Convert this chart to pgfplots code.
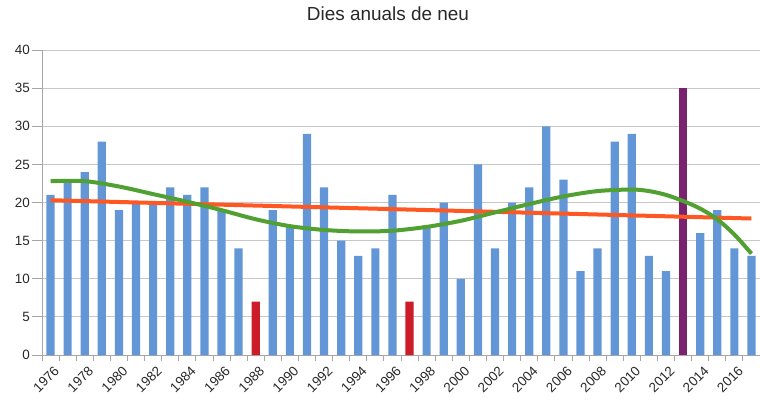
\documentclass[border=0pt]{standalone}
\usepackage{pgfplots}
\pgfplotsset{compat=1.18}
\usepackage{fontspec}
\setmainfont{Liberation Sans}
\definecolor{barblue}{RGB}{98,150,214}
\definecolor{barred}{RGB}{204,28,40}
\definecolor{barpurple}{RGB}{122,34,112}
\definecolor{trendred}{RGB}{255,87,34}
\definecolor{trendgreen}{RGB}{80,160,50}
\definecolor{ticktext}{RGB}{40,40,40}
\begin{document}
\begin{tikzpicture}
\begin{axis}[
  scale only axis, width=718bp, height=305bp,
  xmin=1975.5, xmax=2017.5, ymin=0, ymax=40,
  ytick={0,5,...,40},
  xtick={1976,1978,...,2016},
  minor xtick={1975.5,1976.5,...,2017.5},
  ymajorgrids, grid style={black!22, line width=0.9bp},
  axis x line*=bottom, axis y line*=left,
  axis line style={black!35, line width=0.9bp},
  every outer x axis line/.append style={-},
  every outer y axis line/.append style={-},
  tick align=outside,
  major tick length=10bp, minor tick length=6bp,
  every major x tick/.style={draw=none},
  every minor x tick/.style={draw=black!35, line width=0.8bp},
  every major y tick/.style={draw=black!35, line width=0.8bp},
  /pgf/number format/1000 sep={},
  /pgf/number format/assume math mode=true,
  xticklabel style={rotate=45, anchor=north east, inner sep=1bp, xshift=3bp, yshift=-1bp,
    font=\fontsize{13.5}{13.5}\selectfont, text=ticktext},
  yticklabel style={font=\fontsize{13.5}{13.5}\selectfont, text=ticktext, inner sep=1bp, xshift=-1bp},
  title={Dies anuals de neu},
  title style={at={(0.5,1)}, anchor=center, yshift=30bp, xshift=-13bp,
    font=\fontsize{19}{19}\selectfont, text=ticktext},
  clip=false,
]
\coordinate (SW) at (rel axis cs:0,0);
\coordinate (NE) at (rel axis cs:1,1);
\addplot[ybar, bar width=0.48, bar shift=0pt, fill=barblue, draw=none] coordinates {
(1976,21) (1977,23) (1978,24) (1979,28) (1980,19) (1981,20) (1982,20) (1983,22)
(1984,21) (1985,22) (1986,19) (1987,14)
(1989,19) (1990,17) (1991,29) (1992,22) (1993,15) (1994,13) (1995,14) (1996,21)
(1998,17) (1999,20) (2000,10) (2001,25) (2002,14) (2003,20) (2004,22) (2005,30)
(2006,23) (2007,11) (2008,14) (2009,28) (2010,29) (2011,13) (2012,11)
(2014,16) (2015,19) (2016,14) (2017,13)
};
\addplot[ybar, bar width=0.48, bar shift=0pt, fill=barred, draw=none] coordinates {
(1988,7) (1997,7)
};
\addplot[ybar, bar width=0.48, bar shift=0pt, fill=barpurple, draw=none] coordinates {
(2013,35)
};
\addplot[trendred, line width=4bp, no markers] coordinates {
(1976,20.3) (2017,17.9)
};
\addplot[trendgreen, line width=4bp, no markers, smooth] coordinates {
(1976,22.8) (1978,22.8) (1980,22.1) (1982,21.1) (1984,20.1) (1986,19.0) (1988,17.8)
(1990,16.9) (1992,16.4) (1994,16.2) (1996,16.3) (1998,16.8) (2000,17.6) (2002,18.7)
(2004,19.8) (2006,20.8) (2008,21.5) (2010,21.7) (2011,21.5) (2012,21.0) (2013,20.2)
(2014,19.2) (2015,17.8) (2016,15.8) (2017,13.3)
};
\end{axis}
\pgfresetboundingbox
\path ([xshift=-42bp,yshift=-51bp]SW) rectangle ([yshift=50bp]NE);
\end{tikzpicture}
\end{document}
